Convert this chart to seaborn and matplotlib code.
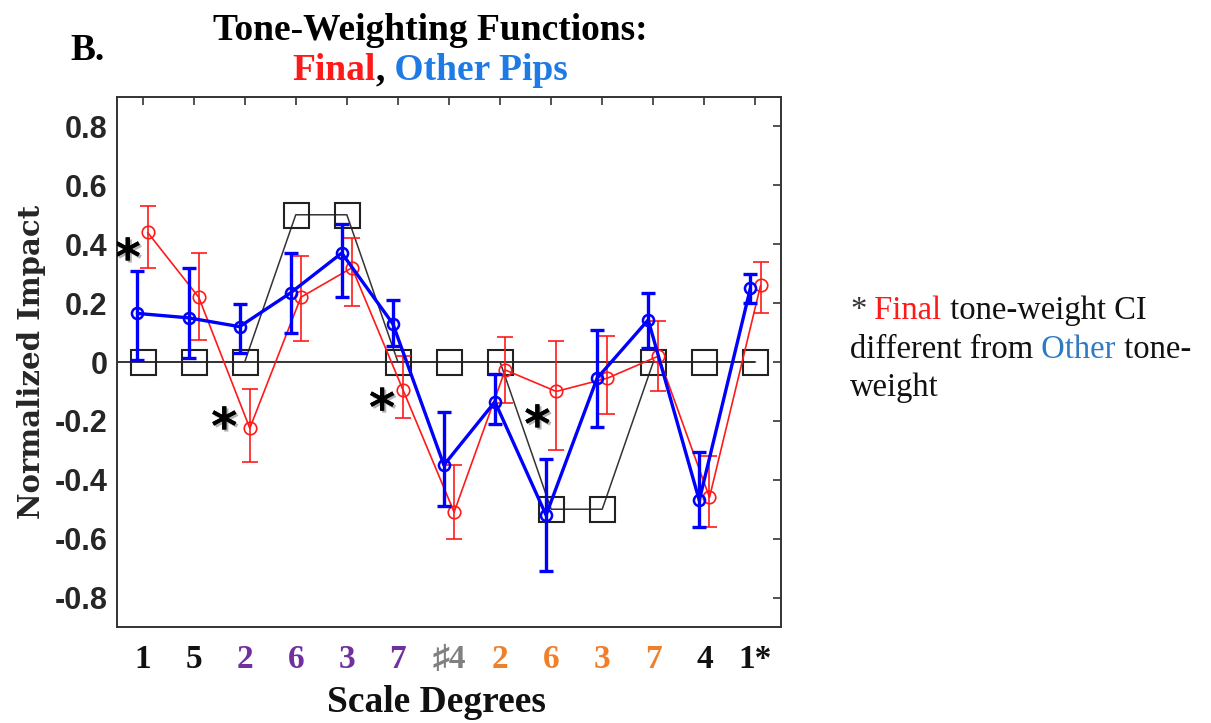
import matplotlib
matplotlib.use("Agg")
import matplotlib.pyplot as plt
import matplotlib.patheffects as pe
import seaborn as sns
import numpy as np
import pandas as pd

# ---------------- data ----------------
degrees = ['1', '5', '2', '6', '3', '7', '\u266f4', '2', '6', '3', '7', '4', '1*']
degree_colors = ['#111111', '#111111', '#7030A0', '#7030A0', '#7030A0', '#7030A0',
                 '#808080', '#F07F2A', '#F07F2A', '#F07F2A', '#F07F2A', '#111111', '#111111']
template = [0, 0, 0, 0.5, 0.5, 0, 0, 0, -0.5, -0.5, 0, 0, 0]
final_mean = [0.44, 0.22, -0.225, 0.22, 0.32, -0.095, -0.51, -0.027, -0.10, -0.055, 0.02, -0.46, 0.26]
final_lo = [0.32, 0.075, -0.34, 0.07, 0.19, -0.19, -0.60, -0.14, -0.30, -0.175, -0.10, -0.56, 0.165]
final_hi = [0.53, 0.37, -0.09, 0.36, 0.42, 0.02, -0.35, 0.085, 0.07, 0.09, 0.14, -0.32, 0.34]
other_mean = [0.165, 0.15, 0.12, 0.235, 0.37, 0.13, -0.35, -0.135, -0.52, -0.055, 0.143, -0.47, 0.25]
other_lo = [0.007, 0.014, 0.03, 0.10, 0.22, 0.055, -0.49, -0.21, -0.71, -0.22, 0.048, -0.56, 0.20]
other_hi = [0.31, 0.32, 0.197, 0.37, 0.47, 0.21, -0.17, -0.04, -0.33, 0.11, 0.235, -0.305, 0.30]
star_x = [0.71, 2.6, 5.69, 8.73]
star_y = [0.384, -0.19, -0.126, -0.183]
ytick_vals = [0.8, 0.6, 0.4, 0.2, 0, -0.2, -0.4, -0.6, -0.8]
ytick_labels = ['0.8', '0.6', '0.4', '0.2', '0', '-0.2', '-0.4', '-0.6', '-0.8']

RED = '#FF1A1A'
BLUE = '#0000FF'
LIGHTBLUE = '#1E7BE6'
ANNOT_BLUE = '#2E7BC4'

sns.set_style('white')
plt.rcParams['font.family'] = ['Liberation Serif', 'DejaVu Sans']

W, H = 1211, 723
fig = plt.figure(figsize=(W / 100, H / 100), dpi=100)
ax = fig.add_axes([117 / W, 1 - 627 / H, (781 - 117) / W, (627 - 97) / H])

x = np.arange(1, len(degrees) + 1)
df = pd.DataFrame({'x': x, 'template': template,
                   'final': final_mean, 'other': other_mean})
dodge = 0.1

# zero line
ax.hlines(0, 0.5, len(degrees), color='black', lw=1.1, zorder=1)

# template
sns.lineplot(data=df, x='x', y='template', ax=ax, color='#333333', lw=1.1,
             marker='s', markersize=18, markerfacecolor='none',
             markeredgecolor='#222222', markeredgewidth=1.5, zorder=2)

# final (red)
fx = x + dodge
ax.errorbar(fx, final_mean,
            yerr=[np.array(final_mean) - np.array(final_lo), np.array(final_hi) - np.array(final_mean)],
            fmt='none', ecolor=RED, elinewidth=1.2, capsize=6, capthick=1.2, zorder=3)
sns.lineplot(x=fx, y=final_mean, ax=ax, color=RED, lw=1.2, marker='o', markersize=9,
             markerfacecolor='none', markeredgecolor=RED, markeredgewidth=1.2, zorder=4)

# other (blue)
ox = x - dodge
ax.errorbar(ox, other_mean,
            yerr=[np.array(other_mean) - np.array(other_lo), np.array(other_hi) - np.array(other_mean)],
            fmt='none', ecolor=BLUE, elinewidth=2.4, capsize=5, capthick=2.4, zorder=5)
sns.lineplot(x=ox, y=other_mean, ax=ax, color=BLUE, lw=2.4, marker='o', markersize=8,
             markerfacecolor='none', markeredgecolor=BLUE, markeredgewidth=1.8, zorder=6)

# significance asterisks
sns.scatterplot(x=star_x, y=star_y, ax=ax, marker=r'$\mathbf{*}$', s=300,
                color='black', linewidth=0, zorder=7)
ax.collections[-1].set_path_effects([
    pe.withSimplePatchShadow(offset=(1.5, -1.5), shadow_rgbFace='#555555', alpha=0.45),
    pe.Normal()])

ax.set_xlim(0.5, len(degrees) + 0.5)
ax.set_ylim(-0.9, 0.9)
ax.set_xticks(x)
ax.set_xticklabels(degrees, fontsize=24, fontweight='bold',
                   family=['Liberation Serif', 'DejaVu Sans'])
for lab, c in zip(ax.get_xticklabels(), degree_colors):
    lab.set_color(c)
ax.set_yticks(ytick_vals)
ax.set_yticklabels(ytick_labels, fontsize=22, fontweight='bold', family='Liberation Sans')
ax.tick_params(axis='both', direction='in', length=6, width=1.2, color='#333333',
               top=True, right=True)
ax.tick_params(axis='x', pad=12)
ax.tick_params(axis='y', pad=7)
for s in ax.spines.values():
    s.set_visible(True)
    s.set_color('#333333')
    s.set_linewidth(1.4)

ax.set_xlabel('')
ax.set_ylabel('Normalized Impact', fontsize=21, fontweight='bold', family='DejaVu Serif',
              labelpad=6)

# ---------- titles & annotations ----------
fig.canvas.draw()
renderer = fig.canvas.get_renderer()


def text_width(s, **kw):
    t = fig.text(0, 0, s, **kw)
    w = t.get_window_extent(renderer).width
    t.remove()
    return w


def multicolor(x0_px, y_px, parts, center=False, **kw):
    full = ''.join(p for p, _ in parts)
    if center:
        x0_px = x0_px - text_width(full, **kw) / 2
    prefix = ''
    for s, c in parts:
        off = text_width(prefix, **kw) if prefix else 0
        fig.text((x0_px + off) / W, 1 - y_px / H, s, color=c, va='baseline', **kw)
        prefix += s


title_kw = dict(fontsize=27, fontweight='bold', family='Liberation Serif')
fig.text(430 / W, 1 - 40 / H, 'Tone-Weighting Functions:', ha='center', va='baseline',
         color='black', **title_kw)
multicolor(430, 80, [('Final', RED), (',', 'black'), (' Other Pips', LIGHTBLUE)],
           center=True, **title_kw)
fig.text(70 / W, 1 - 60 / H, 'B.', va='baseline', color='black', **title_kw)

# x axis title
fig.text(436 / W, 1 - 712 / H, 'Scale Degrees', ha='center', va='baseline', color='#111111',
         **title_kw)

ann_kw = dict(fontsize=23.5, family='Liberation Serif')
multicolor(850, 319, [('*', '#333333'), (' Final', RED), (' tone-weight CI', '#111111')], **ann_kw)
multicolor(850, 358, [('different from', '#111111'), (' Other', ANNOT_BLUE), (' tone-', '#111111')], **ann_kw)
multicolor(850, 396, [('weight', '#111111')], **ann_kw)

fig.savefig('out.png', dpi=100)
